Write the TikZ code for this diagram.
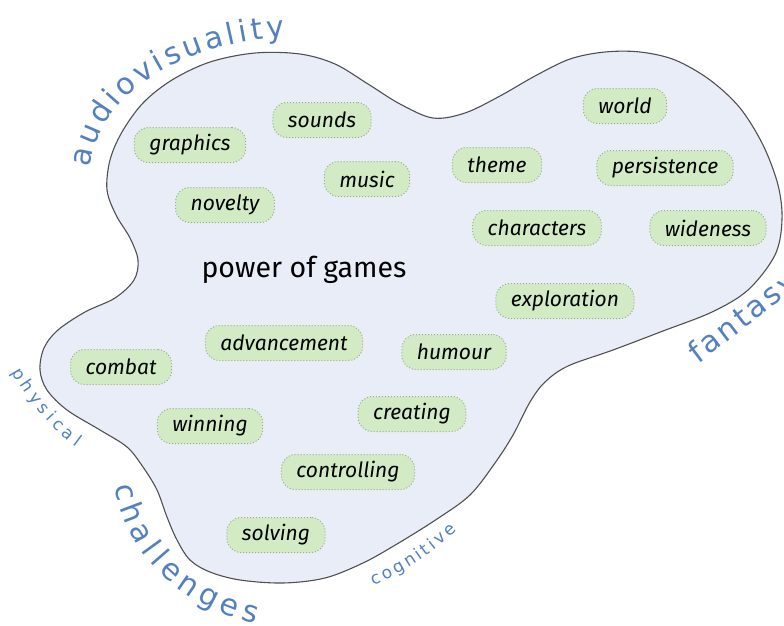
\documentclass[tikz,border=0pt]{standalone}
\usepackage{fontspec}
\usepackage{xcolor}
\setmainfont{Fira Sans}
\newfontfamily\curvefont{DejaVu Sans}
\usetikzlibrary{decorations.text}

\definecolor{blobfill}{RGB}{233,237,248}
\definecolor{blobline}{RGB}{80,80,80}
\definecolor{leaffill}{RGB}{211,235,196}
\definecolor{leafline}{RGB}{150,175,140}
\definecolor{areablue}{RGB}{82,128,192}

\begin{document}
\begin{tikzpicture}[x=1pt, y=-1pt,
    leaf/.style={draw=leafline, dotted, line width=1pt, fill=leaffill,
        rounded corners=14pt, minimum height=35pt, inner xsep=15pt,
        font=\fontsize{21}{23}\selectfont\itshape},
    bigarea/.style={decorate, decoration={text along path, text align={fit to path},
        text={|\curvefont\fontsize{30}{32}\selectfont\color{areablue}|#1}}},
    smallarea/.style={decorate, decoration={text along path, text align={fit to path},
        text={|\curvefont\fontsize{17}{19}\selectfont\color{areablue}|#1}}}]
    % Fix the page
    \useasboundingbox (0,0) rectangle (784,626);

    % Draw the blob
    \draw[blobline, line width=1.1pt, fill=blobfill] plot[smooth cycle, tension=0.55] coordinates {
        (40,370) (44,348) (58,330) (85,312) (115,298) (134,280) (138,260) (130,238)
        (116,215) (107,190) (110,160) (122,132) (143,103) (172,80) (210,62) (255,53)
        (300,54) (335,64) (368,84) (400,104) (433,118) (465,113) (500,96) (535,76)
        (570,59) (605,52) (640,52) (675,60) (710,80) (740,108) (763,145) (778,185)
        (782,220) (775,255) (748,290) (712,312) (663,331) (613,350) (568,366) (545,382)
        (530,402) (513,435) (495,463) (470,495) (437,519) (397,544) (363,563) (325,578)
        (283,583) (240,580) (210,572) (190,560) (177,540) (167,517) (157,490) (143,467)
        (127,447) (100,430) (67,410) (47,390)};

    % Title
    \node (power) at (304,270) {\fontsize{28.5}{31}\selectfont power of games};

    % Leaves
    \node[leaf] (graphics) at (190,145) {graphics};
    \node[leaf] (sounds) at (322,120) {sounds};
    \node[leaf] (music) at (367,179) {music};
    \node[leaf] (novelty) at (225,205) {novelty};
    \node[leaf] (theme) at (497,165) {theme};
    \node[leaf] (world) at (625,106) {world};
    \node[leaf] (persistence) at (665,168) {persistence};
    \node[leaf] (characters) at (537,228) {characters};
    \node[leaf] (wideness) at (708,228) {wideness};
    \node[leaf] (exploration) at (565,301) {exploration};
    \node[leaf] (advancement) at (284,343) {advancement};
    \node[leaf] (humour) at (454,352) {humour};
    \node[leaf] (combat) at (121,367) {combat};
    \node[leaf] (winning) at (210,426) {winning};
    \node[leaf] (creating) at (412,414) {creating};
    \node[leaf] (controlling) at (348,472) {controlling};
    \node[leaf] (solving) at (276,535) {solving};

    % Curved area names
    \path[bigarea=audiovisuality] (90,168) .. controls (98,100) and (170,45) .. (285,37);
    \path[bigarea=fantasy] (698,364) .. controls (722,346) and (760,318) .. (800,285);
    \path[bigarea=challenges] (115,486) .. controls (126,545) and (165,600) .. (255,624);
    \path[smallarea=physical] (12,372) .. controls (30,403) and (50,428) .. (76,447);
    \path[smallarea=cognitive] (373,585) .. controls (400,575) and (430,556) .. (457,530);
\end{tikzpicture}
\end{document}
